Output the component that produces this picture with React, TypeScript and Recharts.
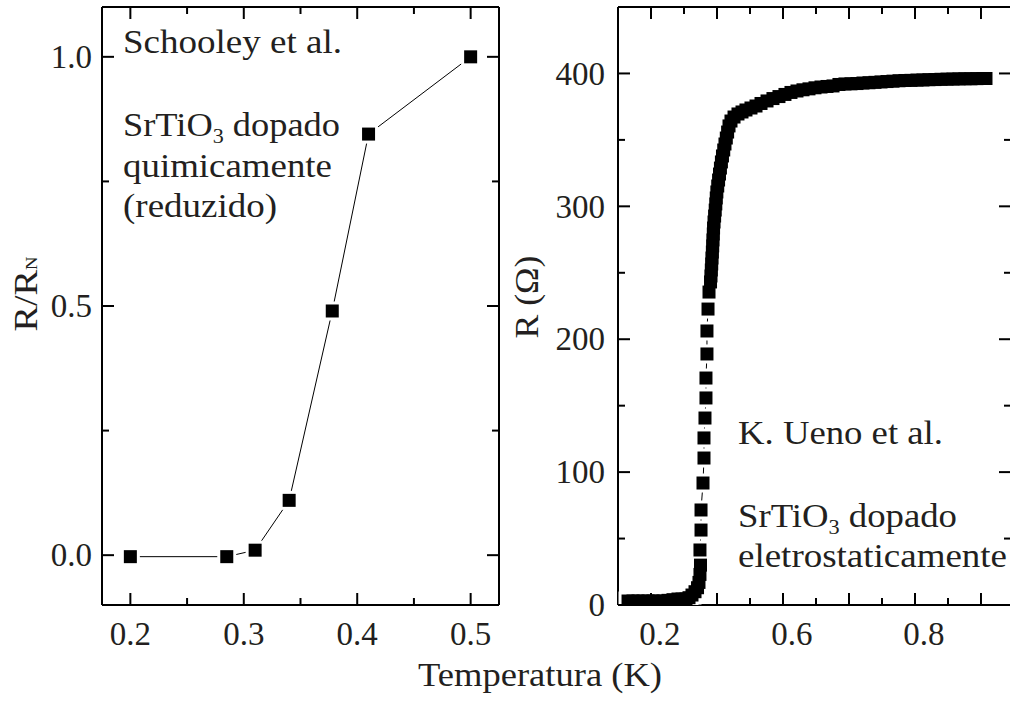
import React from 'react';
import { ComposedChart, Line, XAxis, YAxis } from 'recharts';

const FONT = '"Liberation Serif", "Times New Roman", Times, serif';
const INK = '#231f20';
const FS = 33;

// Schooley et al. (chemically doped SrTiO3), normalised resistance
const schooleyT = [0.2, 0.285, 0.31, 0.34, 0.378, 0.41, 0.5];
const schooleyR = [-0.003, -0.003, 0.01, 0.11, 0.49, 0.845, 1.0];

// K. Ueno et al. (electrostatically doped SrTiO3), R in ohm
const uenoBaseT = [0.3652, 0.3727, 0.3803, 0.3879, 0.3955, 0.403, 0.4106, 0.4182, 0.4258, 0.4333, 0.4409, 0.447];
const uenoBaseR = [3, 3, 3, 3, 3, 3, 3, 3, 3.5, 4, 4.5, 4.5];
const uenoOnsetT = [0.453, 0.4576, 0.4621, 0.4667, 0.4705, 0.4727, 0.4742, 0.475];
const uenoOnsetR = [4.5, 5.5, 7.5, 10, 13, 17, 23, 30];
const uenoStepT = [0.4742, 0.4758, 0.4758, 0.4788, 0.4803, 0.4803, 0.4818, 0.4833, 0.4833, 0.4848, 0.4848, 0.4864, 0.4879];
const uenoStepR = [41.4, 56.4, 71.5, 91.8, 110.6, 125.7, 140.7, 155.8, 170.8, 188.9, 206.2, 222.7, 235.5];
const uenoRiseT = [
  0.4902, 0.4909, 0.4914, 0.492, 0.4924, 0.493, 0.4935, 0.4939, 0.4944, 0.4948,
  0.4955, 0.4964, 0.4973, 0.4982, 0.4989, 0.4998, 0.5011, 0.5024, 0.5038, 0.5052,
  0.5067, 0.5083, 0.5102, 0.5121, 0.5141, 0.5161, 0.5182, 0.5212, 0.5258,
];
const uenoRiseR = [
  243.1, 247.6, 252.1, 256.6, 261.1, 265.6, 270.2, 274.7, 279.2, 283.7,
  288.2, 292.7, 297.2, 301.8, 306.3, 310.8, 315.3, 319.8, 324.3, 328.8,
  333.4, 337.9, 342.4, 346.9, 351.4, 355.9, 360.5, 364.2, 367.2,
];
const uenoNormalT = [
  0.5318, 0.5379, 0.5439, 0.5515, 0.5591, 0.5667, 0.5758, 0.5848, 0.5939, 0.603,
  0.6121, 0.6212, 0.6303, 0.6394, 0.6485, 0.6576, 0.6667, 0.6758, 0.6848, 0.6939,
  0.703, 0.7121, 0.7212, 0.7303, 0.7394, 0.7485, 0.7576, 0.7667, 0.7758, 0.7848,
  0.7939, 0.803, 0.8121, 0.8212, 0.8303, 0.8394, 0.8485, 0.8576, 0.8667, 0.8758,
  0.8848, 0.8939, 0.903, 0.9076,
];
const uenoNormalR = [
  369.5, 371.0, 372.5, 374.0, 375.5, 377.4, 379.3, 381.1, 382.6, 384.2,
  385.7, 386.8, 387.7, 388.4, 389.2, 389.8, 390.2, 390.6, 391.7, 392.1,
  392.2, 392.4, 392.8, 393.0, 393.3, 393.6, 393.9, 394.2, 394.5, 394.7,
  394.8, 395.0, 395.1, 395.3, 395.4, 395.6, 395.7, 395.8, 395.9, 396.0,
  396.0, 396.1, 396.2, 396.2,
];

// axes
const leftXMajor = [0.2, 0.3, 0.4, 0.5];
const leftXMinor = [0.25, 0.35, 0.45];
const leftXLabels = ['0.2', '0.3', '0.4', '0.5'];
const leftYMajor = [0, 0.5, 1.0];
const leftYMinor = [0.25, 0.75];
const leftYLabels = ['0.0', '0.5', '1.0'];

const rightXMajor = [0.4, 0.5, 0.6, 0.7, 0.8, 0.9];
const rightXMinor = [0.45, 0.55, 0.65, 0.75, 0.85];
const rightXLabelAt = [0.4, 0.6, 0.8];
const rightXLabels = ['0.2', '0.6', '0.8'];
const rightYMajor = [0, 100, 200, 300, 400];
const rightYMinor = [50, 150, 250, 350];
const rightYLabels = ['0', '100', '200', '300', '400'];

const zip = (ts: number[], rs: number[]) => ts.map((t, i) => ({ t, r: rs[i] }));

const schooleyData = zip(schooleyT, schooleyR);
const uenoData = [
  ...zip(uenoBaseT, uenoBaseR),
  ...zip(uenoOnsetT, uenoOnsetR),
  ...zip(uenoStepT, uenoStepR),
  ...zip(uenoRiseT, uenoRiseR),
  ...zip(uenoNormalT, uenoNormalR),
];

const near = (a: number, b: number) => Math.abs(a - b) < 1e-6;
const allTicks = (a: number[], b: number[]) => [...a, ...b].sort((p, q) => p - q);

type Side = 'bottom' | 'top' | 'left' | 'right';

// inward pointing ticks, long on majors, short on minors
const makeTick = (side: Side, major: number[], labelAt: number[] = [], labels: string[] = [], shift = 0) =>
  (props: any) => {
    const { x, y, payload, index } = props;
    const v = payload.value;
    const len = major.some(m => near(m, v)) ? 12 : 7;
    const li = labelAt.findIndex(m => near(m, v));
    const label = li >= 0 ? labels[li] : null;
    let tick: React.ReactNode = null;
    let text: React.ReactNode = null;
    if (side === 'bottom') {
      tick = <line x1={x} x2={x} y1={y} y2={y - len} />;
      if (label) text = <text x={x + shift} y={y + 40} textAnchor="middle">{label}</text>;
    } else if (side === 'top') {
      tick = <line x1={x} x2={x} y1={y} y2={y + len} />;
    } else if (side === 'left') {
      tick = <line x1={x} x2={x + len} y1={y} y2={y} />;
      if (label) text = <text x={x - shift} y={y} dy="0.34em" textAnchor="end">{label}</text>;
    } else {
      tick = <line x1={x} x2={x - len} y1={y} y2={y} />;
    }
    return (
      <g key={`${side}-${index}`} stroke="#000" strokeWidth={2}>
        {tick}
        {text && (
          <g stroke="none" fill={INK} fontSize={FS} fontFamily={FONT}>{text}</g>
        )}
      </g>
    );
  };

const square = (size: number, fill: string) => (props: any) => {
  const { cx, cy, index } = props;
  if (cx == null || cy == null) return <g key={index} />;
  return <rect key={index} x={cx - size / 2} y={cy - size / 2} width={size} height={size} fill={fill} />;
};

const axisLine = { stroke: '#000', strokeWidth: 2 };

interface PanelProps {
  data: { t: number; r: number }[];
  width: number;
  xDomain: [number, number];
  yDomain: [number, number];
  xTicks: number[];
  yTicks: number[];
  xTick: any;
  xTickTop: any;
  yTick: any;
  yTickRight: any;
  yAxisWidth: number;
  rightWidth: number;
}

const Panel: React.FC<PanelProps> = (p) => (
  <ComposedChart width={p.width} height={704} data={p.data} margin={{ top: 0, right: 0, bottom: 0, left: 0 }}>
    <XAxis xAxisId="b" type="number" dataKey="t" domain={p.xDomain} allowDataOverflow ticks={p.xTicks}
      interval={0} tickSize={0} tickMargin={0} tickLine={false} axisLine={axisLine} tick={p.xTick} height={99} />
    <XAxis xAxisId="t" orientation="top" type="number" dataKey="t" domain={p.xDomain} allowDataOverflow ticks={p.xTicks}
      interval={0} tickSize={0} tickMargin={0} tickLine={false} axisLine={axisLine} tick={p.xTickTop} height={7} />
    <YAxis yAxisId="l" type="number" dataKey="r" domain={p.yDomain} allowDataOverflow ticks={p.yTicks}
      interval={0} tickSize={0} tickMargin={0} tickLine={false} axisLine={axisLine} tick={p.yTick} width={p.yAxisWidth} />
    <YAxis yAxisId="r" orientation="right" type="number" dataKey="r" domain={p.yDomain} allowDataOverflow ticks={p.yTicks}
      interval={0} tickSize={0} tickMargin={0} tickLine={false} axisLine={axisLine} tick={p.yTickRight} width={p.rightWidth} />
    <Line xAxisId="b" yAxisId="l" dataKey="r" type="linear" stroke="#000" strokeWidth={1}
      dot={square(19, '#fff')} activeDot={false} isAnimationActive={false} />
    <Line xAxisId="b" yAxisId="l" dataKey="r" type="linear" stroke="none"
      dot={square(13, '#000')} activeDot={false} isAnimationActive={false} />
  </ComposedChart>
);

const Sub: React.FC<{ children: React.ReactNode }> = ({ children }) => (
  <>
    <tspan fontSize={20} dy={7}>{children}</tspan>
    <tspan dy={-7}>{' '}</tspan>
  </>
);

const stretch = (w: number) => ({ textLength: w, lengthAdjust: 'spacingAndGlyphs' as const });

export default function App() {
  return (
    <div style={{ position: 'absolute', left: 0, top: 0, width: 1010, height: 704, overflow: 'hidden', background: '#fff' }}>
      <div style={{ position: 'absolute', left: 0, top: 0 }}>
        <Panel
          data={schooleyData}
          width={505}
          xDomain={[0.175, 0.525]}
          yDomain={[-0.1, 1.1]}
          xTicks={allTicks(leftXMajor, leftXMinor)}
          yTicks={allTicks(leftYMajor, leftYMinor)}
          xTick={makeTick('bottom', leftXMajor, leftXMajor, leftXLabels, 0)}
          xTickTop={makeTick('top', leftXMajor)}
          yTick={makeTick('left', leftYMajor, leftYMajor, leftYLabels, 10)}
          yTickRight={makeTick('right', leftYMajor)}
          yAxisWidth={102}
          rightWidth={6}
        />
      </div>
      <div style={{ position: 'absolute', left: 505, top: 0 }}>
        <Panel
          data={uenoData}
          width={516}
          xDomain={[0.35, 0.9455]}
          yDomain={[0, 450]}
          xTicks={allTicks(rightXMajor, rightXMinor)}
          yTicks={allTicks(rightYMajor, rightYMinor)}
          xTick={makeTick('bottom', rightXMajor, rightXLabelAt, rightXLabels, 9)}
          xTickTop={makeTick('top', rightXMajor)}
          yTick={makeTick('left', rightYMajor, rightYMajor, rightYLabels, 13)}
          yTickRight={makeTick('right', rightYMajor)}
          yAxisWidth={113}
          rightWidth={10}
        />
      </div>
      <svg width={1010} height={704} style={{ position: 'absolute', left: 0, top: 0, pointerEvents: 'none' }}
        fontFamily={FONT} fontSize={FS} fill={INK}>
        <text x={123} y={53} {...stretch(219)}>Schooley et al.</text>
        <text x={123} y={136} {...stretch(217)}>SrTiO<Sub>3</Sub>dopado</text>
        <text x={123} y={177} {...stretch(209)}>quimicamente</text>
        <text x={123} y={217} {...stretch(154)}>(reduzido)</text>

        <text x={738} y={444} {...stretch(205)}>K. Ueno et al.</text>
        <text x={738} y={527} {...stretch(219)}>SrTiO<Sub>3</Sub>dopado</text>
        <text x={738} y={567} {...stretch(269)}>eletrostaticamente</text>

        <text transform="translate(37,294) rotate(-90)" textAnchor="middle" {...stretch(75)}>
          R/R<tspan fontSize={16}>N</tspan>
        </text>
        <text transform="translate(538,297) rotate(-90)" textAnchor="middle" {...stretch(83)}>R (Ω)</text>
        <text x={540} y={686} textAnchor="middle" {...stretch(244)}>Temperatura (K)</text>
      </svg>
    </div>
  );
}
